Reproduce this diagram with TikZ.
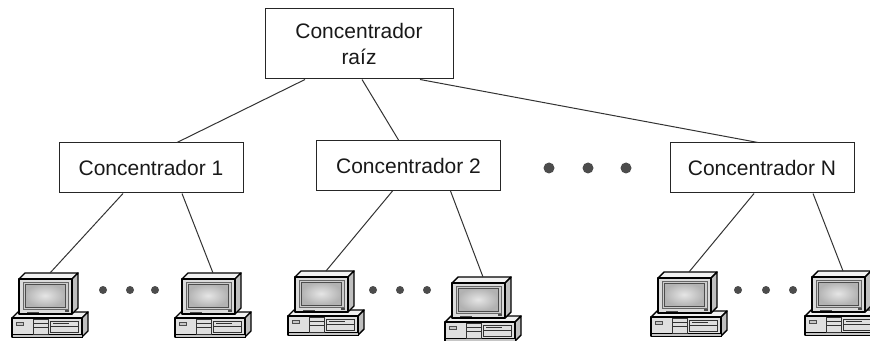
\documentclass[tikz,border=0pt]{standalone}
\usepackage{fontspec}
\setmainfont{Liberation Sans}
\usepackage{tikz}
\usetikzlibrary{calc}
\tikzstyle{hub} = [draw=black!85, line width=0.5pt, text=black!90, font=\fontsize{10.5}{13}\selectfont, minimum width=92pt, minimum height=25pt]
\tikzstyle{link} = [draw=black!80, line width=0.5pt]
\tikzstyle{pcline} = [draw=black, line width=0.7pt, line join=round]
\tikzset{
  pc/.pic={
    % caja de la CPU
    \filldraw[pcline, fill=gray!12] (-7,39) -- (-1,33) -- (69,33) -- (63,39) -- cycle;
    \filldraw[pcline, fill=gray!50] (63,39) -- (69,33) -- (69,52) -- (63,58) -- cycle;
    \filldraw[pcline, fill=gray!25] (-7,39) rectangle (63,58);
    \filldraw[draw=black, line width=0.4pt, fill=gray!45] (-7,55) rectangle (63,58);
    \filldraw[draw=black!70, line width=0.4pt, fill=gray!45] (-3,43) rectangle (4,46);
    \draw[black!80, line width=0.5pt] (14,40) rectangle (29,55) (14,44) -- (29,44) (14,48) -- (29,48);
    \draw[black!80, line width=0.5pt] (31,42) rectangle (59,53) (31,47) -- (59,47) (34,44.5) -- (50,44.5);
    % monitor
    \filldraw[pcline, fill=gray!10] (0,0) -- (6,-6) -- (59,-6) -- (53,0) -- cycle;
    \filldraw[pcline, fill=gray!50] (53,0) -- (59,-6) -- (59,29) -- (53,35) -- cycle;
    \filldraw[pcline, fill=gray!28] (0,0) rectangle (53,35);
    \filldraw[draw=black!60, line width=0.4pt, fill=gray!40] (4,3) rectangle (49,30);
    \shade[inner color=gray!20, outer color=gray!60] (6,5) rectangle (46,28);
    \draw[black!70, line width=0.4pt] (6,5) rectangle (46,28);
    \fill[black!70] (46,31) rectangle (50,33);
    \draw[black!70, line width=0.4pt] (8,33) -- (20,33);
    \coordinate (-top) at (31,-6);
  }
}

\begin{document}
\begin{tikzpicture}[x=0.5pt, y=-0.5pt]
  \clip (0,0) rectangle (870,341);
  \node[hub, minimum width=94pt, minimum height=35pt, align=center] (root) at (359,44) {Concentrador\\raíz};
  \node[hub] (c1) at (151,168) {Concentrador 1};
  \node[hub] (c2) at (408.5,165.5) {Concentrador 2};
  \node[hub] (cn) at (762,168) {Concentrador N};
  \foreach \x in {549,588,626}
    \fill[black!70] (\x,168) circle (5.5);

  \pic (p1) at (19,279) {pc};
  \pic (p2) at (182,279) {pc};
  \pic (p3) at (295,277) {pc};
  \pic (p4) at (452,283) {pc};
  \pic (p5) at (658,278) {pc};
  \pic (p6) at (812,277) {pc};
  \foreach \x in {103,130,155, 373,400,427, 738,766,793}
    \fill[black!70] (\x,290) circle (4);

  \draw[link] ($(root.south)+(-54,0)$) -- ($(c1.north)+(26,0)$);
  \draw[link] ($(root.south)+(3,0)$) -- ($(c2.north)+(-10,0)$);
  \draw[link] ($(root.south)+(61,0)$) -- ($(cn.north)+(-4,0)$);
  \draw[link] ($(c1.south)+(-28,0)$) -- (p1-top);
  \draw[link] ($(c1.south)+(31,0)$) -- (p2-top);
  \draw[link] ($(c2.south)+(-16,0)$) -- (p3-top);
  \draw[link] ($(c2.south)+(42,0)$) -- (p4-top);
  \draw[link] ($(cn.south)+(-8,0)$) -- (p5-top);
  \draw[link] ($(cn.south)+(51,0)$) -- (p6-top);
\end{tikzpicture}
\end{document}
